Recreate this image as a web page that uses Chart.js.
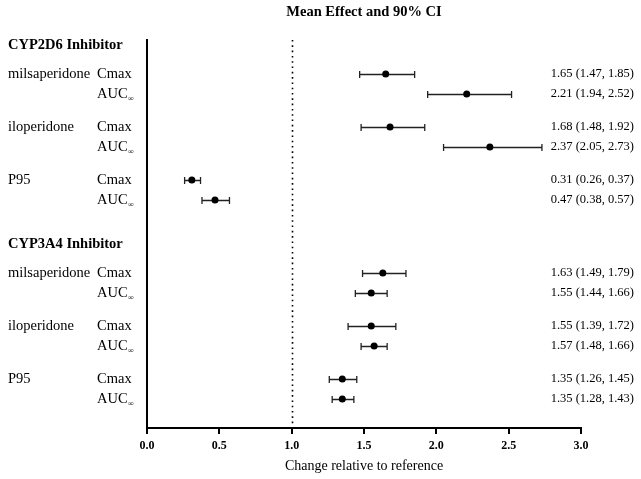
<!DOCTYPE html>
<html><head><meta charset="utf-8">
<script src="https://cdn.jsdelivr.net/npm/chart.js@4"></script>
<style>html,body{margin:0;padding:0;background:#fff}#wrap{width:641px;height:479px}</style>
</head>
<body><div id="wrap"><canvas id="c" width="641" height="479"></canvas></div>
<script>
// ---- data ----
const chartTitle = 'Mean Effect and 90% CI';
const axisTitle = 'Change relative to reference';
const groups = ['CYP2D6 Inhibitor', 'CYP3A4 Inhibitor'];
const drugs = ['milsaperidone', 'iloperidone', 'P95'];
const params = ['Cmax', 'AUC'];
const meanVals  = [1.65, 2.21, 1.68, 2.37, 0.31, 0.47, 1.63, 1.55, 1.55, 1.57, 1.35, 1.35];
const lowerVals = [1.47, 1.94, 1.48, 2.05, 0.26, 0.38, 1.49, 1.44, 1.39, 1.48, 1.26, 1.28];
const upperVals = [1.85, 2.52, 1.92, 2.73, 0.37, 0.57, 1.79, 1.66, 1.72, 1.66, 1.45, 1.43];
const xTicks = [0, 0.5, 1.0, 1.5, 2.0, 2.5, 3.0];
const refValue = 1.0;

// ---- row layout (in row units) ----
const FONT = '"Liberation Serif", "Times New Roman", serif';
const rows = [], headers = [];
let pos = 0;
groups.forEach((g, gi) => {
  headers.push({ text: g, y: pos });
  pos += 1.45;
  drugs.forEach((d, di) => {
    params.forEach((p, pi) => {
      rows.push({ drug: pi === 0 ? d : '', param: p, y: pos });
      pos += 1;
    });
    pos += 0.65;
  });
  pos += 0.55;
});

const fmt = v => v.toFixed(2);

const forestPlugin = {
  id: 'forest',
  beforeDatasetsDraw(chart) {
    const { ctx, chartArea, scales: { x, y } } = chart;
    ctx.save();
    // reference dotted line
    const rx = Math.round(x.getPixelForValue(refValue)) + 0.5;
    ctx.strokeStyle = '#000';
    ctx.lineWidth = 1.6;
    ctx.setLineDash([1.6, 3.7]);
    ctx.beginPath();
    ctx.moveTo(rx, chartArea.top);
    ctx.lineTo(rx, chartArea.bottom);
    ctx.stroke();
    ctx.setLineDash([]);
    // error bars
    ctx.strokeStyle = '#222';
    ctx.lineWidth = 1.3;
    rows.forEach((r, i) => {
      const py = Math.round(y.getPixelForValue(r.y)) + 0.5;
      const x1 = x.getPixelForValue(lowerVals[i]);
      const x2 = x.getPixelForValue(upperVals[i]);
      ctx.beginPath();
      ctx.moveTo(x1, py); ctx.lineTo(x2, py);
      ctx.moveTo(x1, py - 3.5); ctx.lineTo(x1, py + 3.5);
      ctx.moveTo(x2, py - 3.5); ctx.lineTo(x2, py + 3.5);
      ctx.stroke();
    });
    ctx.restore();
  },
  afterDraw(chart) {
    const { ctx, chartArea, scales: { y } } = chart;
    ctx.save();
    ctx.fillStyle = '#000';
    ctx.textBaseline = 'middle';
    // title
    ctx.font = 'bold 14.5px ' + FONT;
    ctx.textAlign = 'center';
    ctx.fillText(chartTitle, (chartArea.left + chartArea.right) / 2, 12);
    // headers
    ctx.textAlign = 'left';
    headers.forEach(h => {
      ctx.font = 'bold 14.5px ' + FONT;
      ctx.fillText(h.text, 8, y.getPixelForValue(h.y));
    });
    rows.forEach((r, i) => {
      const py = y.getPixelForValue(r.y);
      ctx.font = '14.5px ' + FONT;
      ctx.textAlign = 'left';
      if (r.drug) ctx.fillText(r.drug, 8, py);
      ctx.fillText(r.param, 97, py);
      if (r.param === 'AUC') {
        const w = ctx.measureText(r.param).width;
        ctx.font = '8px ' + FONT;
        ctx.fillText('\u221E', 97 + w + 0.5, py + 5);
      }
      ctx.font = '12.5px ' + FONT;
      ctx.textAlign = 'right';
      ctx.fillText(fmt(meanVals[i]) + ' (' + fmt(lowerVals[i]) + ', ' + fmt(upperVals[i]) + ')', chart.width - 7, py);
    });
    ctx.restore();
  }
};

new Chart(document.getElementById('c'), {
  type: 'scatter',
  data: {
    datasets: [{
      data: rows.map((r, i) => ({ x: meanVals[i], y: r.y })),
      backgroundColor: '#000',
      borderColor: '#000',
      pointRadius: 3.5,
      pointHoverRadius: 3.5,
      borderWidth: 0
    }]
  },
  options: {
    responsive: false,
    animation: false,
    devicePixelRatio: 1,
    layout: { padding: { left: 147, right: 60, top: 40, bottom: 0 } },
    plugins: { legend: { display: false }, tooltip: { enabled: false }, title: { display: false } },
    scales: {
      x: {
        type: 'linear', min: 0, max: 3,
        afterBuildTicks: axis => { axis.ticks = xTicks.map(v => ({ value: v })); },
        afterFit: axis => { axis.height = 51; },
        ticks: {
          callback: v => Number(v).toFixed(1),
          font: { family: FONT, size: 12, weight: 'bold' },
          color: '#000', padding: 5, maxRotation: 0
        },
        grid: { drawOnChartArea: false, drawTicks: true, tickLength: 6, color: '#000', lineWidth: 2 },
        border: { display: true, width: 2, color: '#000' },
        title: { display: true, text: axisTitle, color: '#000', font: { family: FONT, size: 14 }, padding: { top: 4, bottom: 4 } }
      },
      y: {
        type: 'linear', reverse: true, min: -0.25, max: 19.15,
        afterFit: axis => { axis.width = 0; },
        ticks: { display: false },
        grid: { display: false },
        border: { display: true, width: 2, color: '#000' }
      }
    }
  },
  plugins: [forestPlugin]
});
</script>
</body></html>
